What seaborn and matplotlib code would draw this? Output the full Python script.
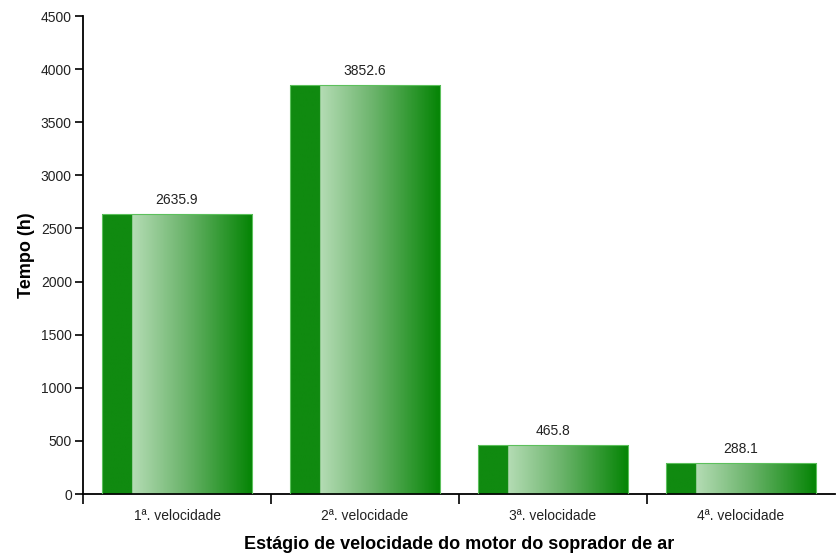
import numpy as np
import pandas as pd
import seaborn as sns
import matplotlib.pyplot as plt
from matplotlib.colors import LinearSegmentedColormap

categories = ["1ª. velocidade", "2ª. velocidade", "3ª. velocidade", "4ª. velocidade"]
tempo = [2635.9, 3852.6, 465.8, 288.1]
y_ticks = [0, 500, 1000, 1500, 2000, 2500, 3000, 3500, 4000, 4500]

df = pd.DataFrame({"estagio": categories, "tempo": tempo})

sns.set_style("ticks")
plt.rcParams["font.family"] = ["Liberation Sans", "DejaVu Sans"]
plt.rcParams["text.color"] = "black"
plt.rcParams["axes.labelcolor"] = "black"
plt.rcParams["xtick.color"] = "black"
plt.rcParams["ytick.color"] = "black"

fig = plt.figure(figsize=(8.4, 5.55), dpi=100)
ax = fig.add_axes([83 / 840, 1 - 494 / 555, 752 / 840, 478 / 555])

sns.barplot(data=df, x="estagio", y="tempo", ax=ax, width=0.8, color="#008000")

# gradient fill: solid dark strip on the left, then light -> dark green
cmap = LinearSegmentedColormap.from_list(
    "grad",
    [(0.0, "#108a10"), (0.199, "#108a10"), (0.2, "#b4dcb4"),
     (0.55, "#6cb46c"), (1.0, "#048404")])
grad = np.linspace(0, 1, 300).reshape(1, -1)
for p in ax.patches:
    x0, y0 = p.get_x(), p.get_y()
    w, h = p.get_width(), p.get_height()
    im = ax.imshow(grad, cmap=cmap, aspect="auto", extent=[x0, x0 + w, y0, y0 + h],
                   zorder=2, interpolation="bilinear")
    im.set_clip_path(p)
    p.set_facecolor("none")
    p.set_edgecolor("#5cc05c")
    p.set_linewidth(0.8)
    p.set_zorder(3)
    ax.text(x0 + w / 2, h + 65, f"{h:.1f}", ha="center", va="bottom",
            fontsize=10, color="#222222")

ax.set_xlim(-0.5, 3.5)
ax.set_ylim(0, 4500)
ax.set_yticks(y_ticks)
ax.set_yticklabels([str(t) for t in y_ticks], fontsize=10, color="#222222")
ax.set_xticks(range(len(categories)))
ax.set_xticklabels(categories, fontsize=10, color="#222222")
ax.tick_params(axis="x", which="major", length=0, pad=11)
ax.set_xticks([-0.5, 0.5, 1.5, 2.5], minor=True)
ax.tick_params(axis="x", which="minor", length=7, width=1.2, color="black")
ax.tick_params(axis="y", length=6, width=1.2, color="black", pad=2)

for s in ["top", "right"]:
    ax.spines[s].set_visible(False)
for s in ["left", "bottom"]:
    ax.spines[s].set_linewidth(1.3)
    ax.spines[s].set_color("black")

ax.set_xlabel("Estágio de velocidade do motor do soprador de ar", fontsize=13,
              fontweight="bold", labelpad=9)
ax.set_ylabel("Tempo (h)", fontsize=13, fontweight="bold", labelpad=4)

fig.savefig("out.png", dpi=100)
